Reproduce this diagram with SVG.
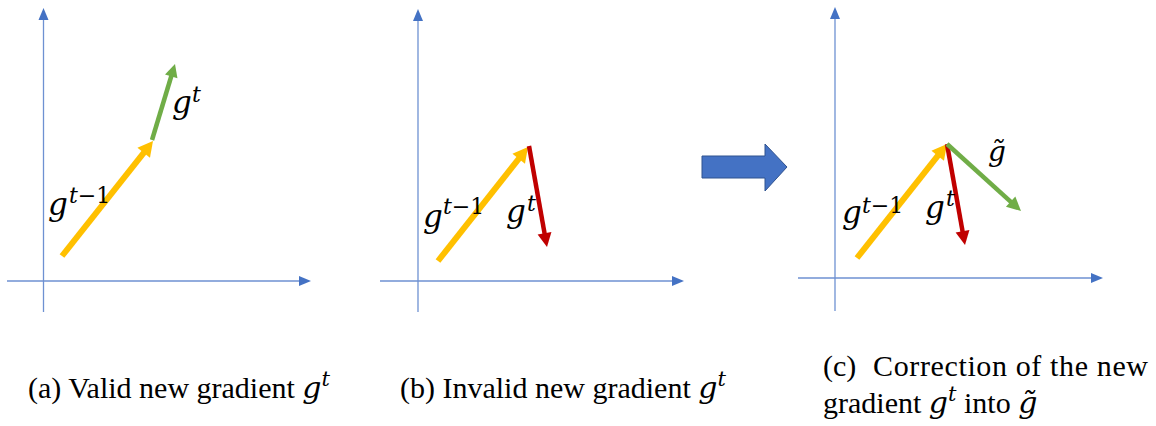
<svg xmlns="http://www.w3.org/2000/svg" width="1156" height="426" viewBox="0 0 1156 426">
<style>
.axis{stroke:#6E91D2;stroke-width:1.3;fill:none}
.axhead{fill:#4472C4}
.yel{stroke:#FFC000;stroke-width:6;fill:none}
.yelh{fill:#FFC000}
.grn{stroke:#70AD47;stroke-width:4.5;fill:none}
.grnh{fill:#70AD47}
.red{stroke:#C00000;stroke-width:4.5;fill:none}
.redh{fill:#C00000}
.m{font-family:"DejaVu Serif",serif;font-style:italic;fill:#000}
.mu{font-family:"DejaVu Serif",serif;font-style:normal}
.cap{font-family:"Liberation Serif","Times New Roman",serif;font-size:30px;fill:#000}
.capm{font-family:"DejaVu Serif",serif;font-style:italic}
</style>
<rect width="1156" height="426" fill="#fff"/>

<g id="panel-a">
  <g id="axes-a">
    <line class="axis" x1="43.5" y1="312" x2="43.5" y2="19"/>
    <polygon class="axhead" points="43.5,8 48.5,20 38.5,20"/>
    <line class="axis" x1="7" y1="281" x2="300" y2="281"/>
    <polygon class="axhead" points="311,281 299,276 299,286"/>
  </g>
  <g id="vec-a-gt1">
    <line class="yel" x1="62" y1="256" x2="144.5" y2="151.8"/>
    <polygon class="yelh" points="153,141 149.97,157.74 137.41,147.80"/>
    <text class="m" x="48" y="215" font-size="31">g</text>
    <text class="m" x="69" y="203" font-size="22">t<tspan class="mu">−1</tspan></text>
  </g>
  <g id="vec-a-gt">
    <line class="grn" x1="152" y1="140" x2="171.5" y2="75.5"/>
    <polygon class="grnh" points="175,64 177.45,78.32 165.01,74.56"/>
    <text class="m" x="172" y="113" font-size="31">g</text>
    <text class="m" x="192" y="102" font-size="22">t</text>
  </g>
</g>

<g id="panel-b">
  <g id="axes-b">
    <line class="axis" x1="418" y1="312" x2="418" y2="20"/>
    <polygon class="axhead" points="418,9 423,21 413,21"/>
    <line class="axis" x1="380" y1="281" x2="673" y2="281"/>
    <polygon class="axhead" points="684,281 672,276 672,286"/>
  </g>
  <g id="vec-b-gt1">
    <line class="yel" x1="438" y1="261" x2="519.5" y2="157.8"/>
    <polygon class="yelh" points="528,147 524.98,163.74 512.42,153.82"/>
    <text class="m" x="423" y="227" font-size="31">g</text>
    <text class="m" x="443" y="214" font-size="22">t<tspan class="mu">−1</tspan></text>
  </g>
  <g id="vec-b-gt">
    <line class="red" x1="529" y1="146" x2="544.7" y2="234.2"/>
    <polygon class="redh" points="547,247 537.65,234.45 551.43,231.99"/>
    <text class="m" x="506" y="222" font-size="31">g</text>
    <text class="m" x="527" y="211" font-size="22">t</text>
  </g>
</g>

<g id="transition-arrow">
  <polygon points="702,156 765,156 765,144 787,167 765,191 765,178 702,178" fill="#4472C4" stroke="#2F528F" stroke-width="1"/>
</g>

<g id="panel-c">
  <g id="axes-c">
    <line class="axis" x1="835" y1="311" x2="835" y2="18"/>
    <polygon class="axhead" points="835,7 840,19 830,19"/>
    <line class="axis" x1="798" y1="278" x2="1092" y2="278"/>
    <polygon class="axhead" points="1103,278 1091,273 1091,283"/>
  </g>
  <g id="vec-c-gt1">
    <line class="yel" x1="857" y1="258" x2="938.5" y2="154.8"/>
    <polygon class="yelh" points="947,144 943.98,160.74 931.42,150.82"/>
    <text class="m" x="842" y="223" font-size="31">g</text>
    <text class="m" x="862" y="213" font-size="22">t<tspan class="mu">−1</tspan></text>
  </g>
  <g id="vec-c-gt">
    <line class="red" x1="947" y1="144" x2="962.7" y2="232.2"/>
    <polygon class="redh" points="965,245 955.65,232.45 969.43,229.99"/>
    <text class="m" x="925" y="218" font-size="31">g</text>
    <text class="m" x="946" y="206" font-size="22">t</text>
  </g>
  <g id="vec-c-gtilde">
    <line class="grn" x1="947" y1="144" x2="1011.4" y2="202.3"/>
    <polygon class="grnh" points="1021,211 1005.92,206.79 1015.32,196.41"/>
    <text class="m" x="988" y="161" font-size="28">g̃</text>
  </g>
</g>

<g id="captions">
  <text class="cap" x="28" y="398">(a) Valid new gradient <tspan class="capm">g</tspan><tspan class="capm" font-size="21" dy="-12">t</tspan></text>
  <text class="cap" x="400" y="398">(b) Invalid new gradient <tspan class="capm">g</tspan><tspan class="capm" font-size="21" dy="-12">t</tspan></text>
  <text class="cap" x="823" y="376">(c)</text>
  <text class="cap" x="873" y="376" textLength="275" lengthAdjust="spacing">Correction of the new</text>
  <text class="cap" x="823" y="413">gradient <tspan class="capm">g</tspan><tspan class="capm" font-size="21" dy="-12">t</tspan><tspan dy="12"> into </tspan><tspan class="capm" font-size="30">g̃</tspan></text>
</g>
</svg>
